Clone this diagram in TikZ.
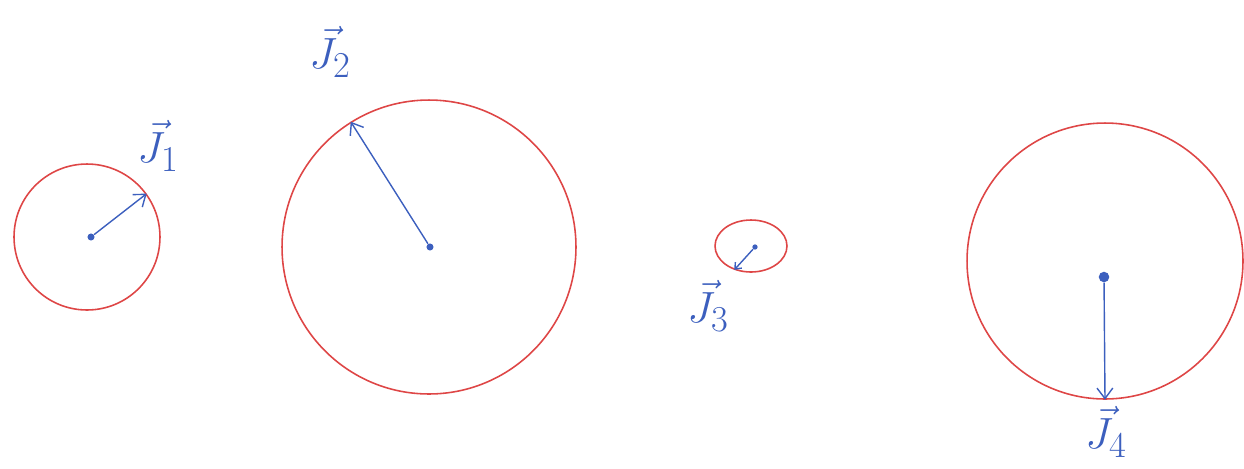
\documentclass[tikz,border=0pt]{standalone}
\usepackage{tikz}
\usetikzlibrary{shapes.geometric, arrows.meta, positioning}
\definecolor{rojoAnillo}{RGB}{222,70,70}
\definecolor{azulFlecha}{RGB}{60,95,190}
\tikzset{
  jd/ring/.style={circle, draw=rojoAnillo, line width=0.9pt, inner sep=0pt},
  jd/oval/.style={ellipse, draw=rojoAnillo, line width=0.9pt, inner sep=0pt},
  jd/dot/.style={circle, fill=azulFlecha, inner sep=0pt, minimum size=4pt},
  jd/arr/.style={-{Straight Barb[length=6pt,width=9pt]}, line width=0.8pt,
    draw=azulFlecha},
  jd/lbl/.style={font=\fontsize{30}{34}\selectfont\color{azulFlecha}, inner sep=1pt}
}
\begin{document}
\begin{tikzpicture}[x=0.02cm, y=-0.02cm]
  \useasboundingbox (0,0) rectangle (1244,468);
  % rings
  \node[jd/ring, minimum size=2.92cm] (c1) at (87,237) {};
  \node[jd/ring, minimum size=5.88cm] (c2) at (429,247) {};
  \node[jd/oval, minimum width=1.44cm, minimum height=1.04cm] (c3) at (751,246) {};
  \node[jd/ring, minimum size=5.52cm] (c4) at (1105,261) {};
  % centres
  \node[jd/dot] (d1) at (91,237) {};
  \node[jd/dot] (d2) at (430,247) {};
  \node[jd/dot, minimum size=3pt] (d3) at (755,247) {};
  \node[jd/dot, minimum size=6pt] (d4) at (1104,277) {};
  % labels
  \node[jd/lbl] (l1) at (158,146) {$\vec{J}_1$};
  \node[jd/lbl] (l2) at (330,52) {$\vec{J}_2$};
  \node[jd/lbl] (l3) at (708,306) {$\vec{J}_3$};
  \node[jd/lbl] (l4) at (1106,432) {$\vec{J}_4$};

  \draw[jd/arr] (d1) -- (c1.36);
  \draw[jd/arr] (d2) -- (c2.122);
  \draw[jd/arr, -{Straight Barb[length=3pt,width=5pt]}] (d3) -- (c3.-125);
  \draw[jd/arr] (d4) -- (c4.south);
\end{tikzpicture}
\end{document}
